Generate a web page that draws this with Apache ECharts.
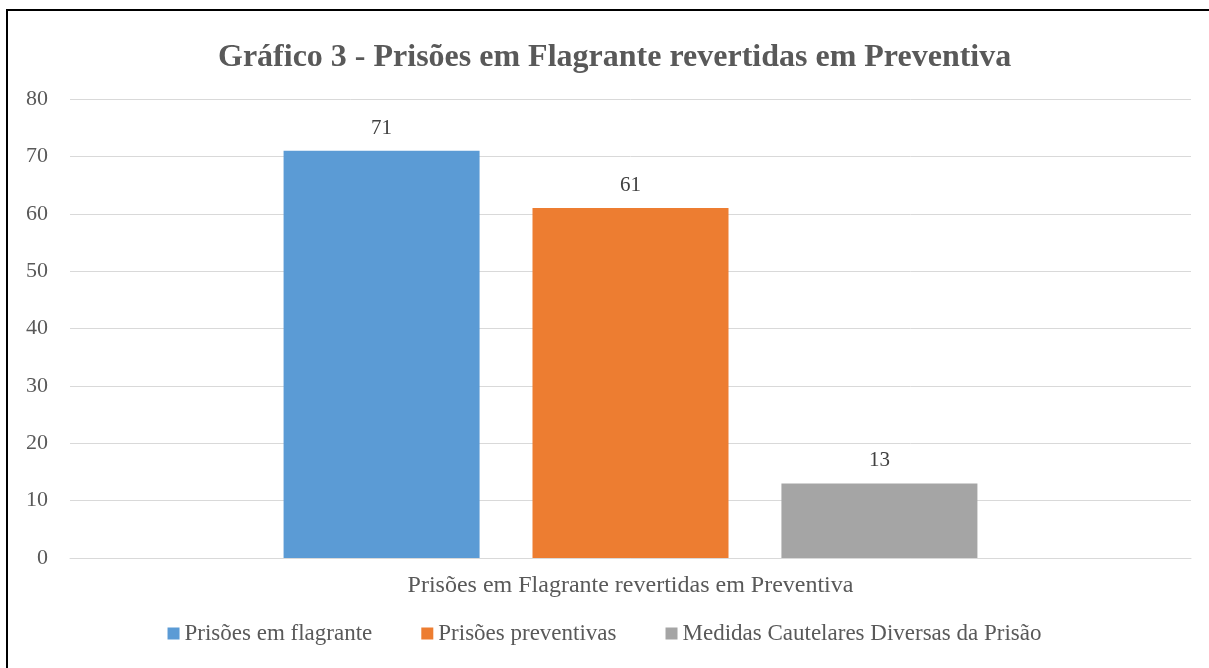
<!DOCTYPE html>
<html><head><meta charset="utf-8">
<script src="https://cdn.jsdelivr.net/npm/echarts@6/dist/echarts.min.js"></script>
<style>html,body{margin:0;padding:0;background:#fff}#c{width:1209px;height:668px}</style>
</head><body><div id="c"></div>
<script>
const categories = ['Prisões em Flagrante revertidas em Preventiva'];
const seriesNames = ['Prisões em flagrante', 'Prisões preventivas', 'Medidas Cautelares Diversas da Prisão'];
const seriesValues = [[71], [61], [13]];
const colors = ['#5B9BD5', '#ED7D31', '#A5A5A5'];
const titleText = 'Gráfico 3 - Prisões em Flagrante revertidas em Preventiva';

const font = 'Liberation Serif, Times New Roman, serif';
const chart = echarts.init(document.getElementById('c'));
chart.setOption({
  animation: false,
  title: { text: titleText, left: 213, top: 37, textStyle: { fontFamily: font, fontSize: 32, fontWeight: 'bold', color: '#595959' } },
  graphic: [{ type: 'rect', shape: { x: 7, y: 10, width: 1300, height: 700 }, style: { fill: 'none', stroke: '#000', lineWidth: 2 }, silent: true }],
  grid: { left: 70, right: 18, top: 99, bottom: 110 },
  legend: { bottom: 18, left: 'center', itemWidth: 12, itemHeight: 12, itemGap: 49, icon: 'rect',
    textStyle: { fontFamily: font, fontSize: 23, color: '#595959' } },
  xAxis: { type: 'category', data: categories,
    axisLine: { lineStyle: { color: '#D9D9D9', width: 1 } }, axisTick: { show: false },
    axisLabel: { fontFamily: font, fontSize: 24, color: '#595959', margin: 16 } },
  yAxis: { type: 'value', min: 0, max: 80, interval: 10,
    axisLine: { show: false }, axisTick: { show: false },
    splitLine: { lineStyle: { color: '#D9D9D9', width: 1 } },
    axisLabel: { fontFamily: font, fontSize: 22, color: '#595959', margin: 22, align: 'right' } },
  series: seriesNames.map((n, i) => ({
    name: n, type: 'bar', data: seriesValues[i], barWidth: 196, barGap: '27%',
    itemStyle: { color: colors[i] },
    label: { show: true, position: 'top', distance: 12, fontFamily: font, fontSize: 21, color: '#404040' }
  }))
});
</script></body></html>
